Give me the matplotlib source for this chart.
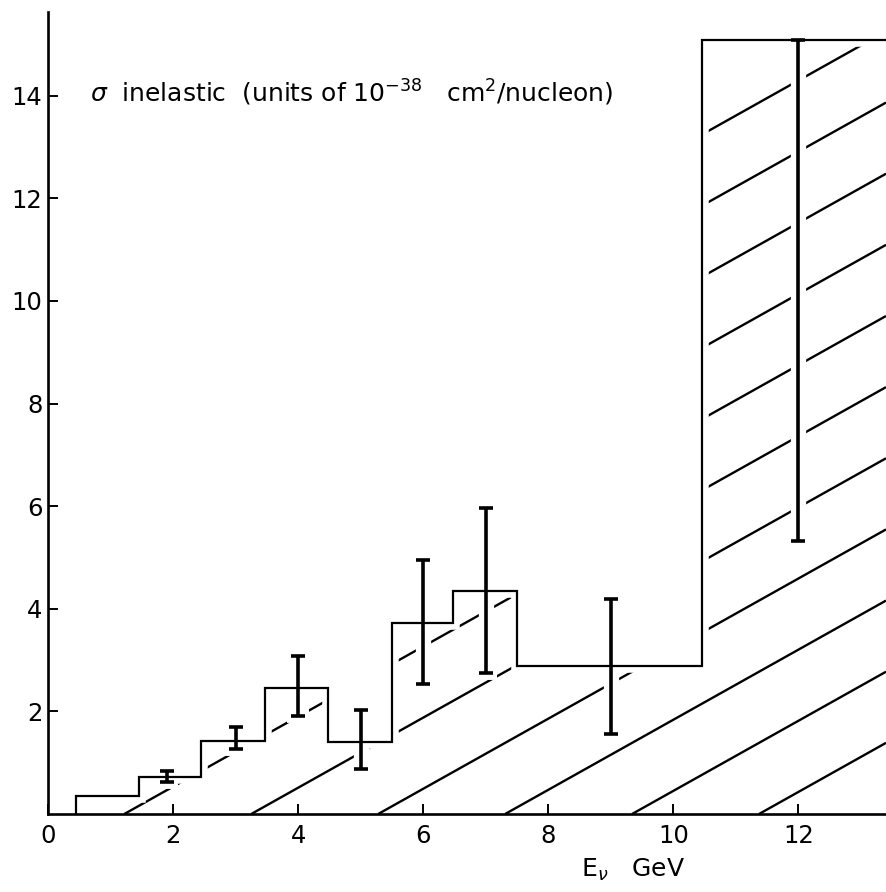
import matplotlib
matplotlib.use("Agg")
import matplotlib.pyplot as plt
import numpy as np

# --- data ---
bin_edges = [0.45, 1.45, 2.45, 3.47, 4.47, 5.5, 6.47, 7.5, 10.45, 14.0]
sigma_hist = [0.35, 0.73, 1.42, 2.46, 1.41, 3.73, 4.35, 2.88, 15.09]

point_E = [1.9, 3.0, 4.0, 5.0, 6.0, 7.0, 9.0, 12.0]
point_lo = [0.63, 1.26, 1.91, 0.88, 2.53, 2.75, 1.56, 5.32]
point_hi = [0.84, 1.70, 3.07, 2.03, 4.95, 5.97, 4.19, 15.09]

x_ticks = [0, 2, 4, 6, 8, 10, 12]
y_ticks = [2, 4, 6, 8, 10, 12, 14]
x_tick_labels = ["0", "2", "4", "6", "8", "10", "12"]
y_tick_labels = ["2", "4", "6", "8", "10", "12", "14"]

# hatch style (spacing / slope of decorative lines)
hatch_start = 1.22
hatch_spacing = 2.03
hatch_slope = 0.683

plt.rcParams['font.family'] = ['DejaVu Sans']
plt.rcParams['mathtext.fontset'] = 'dejavusans'

fig = plt.figure(figsize=(8.86, 8.92), dpi=100)
ax = fig.add_axes([48/886, 1 - 814/892, 1 - 48/886, (814 - 12)/892])
ax.set_xlim(0, 13.4)
ax.set_ylim(0, 15.63)

# clip region = area under histogram
clip = ax.stairs(sigma_hist, bin_edges, baseline=0, fill=True,
                 facecolor='none', edgecolor='none', zorder=0)

# hatch lines
for k in range(-5, 8):
    x0 = hatch_start + k * hatch_spacing
    ln = ax.axline((x0, 0), slope=hatch_slope, color='black', lw=1.7,
                   zorder=1, solid_capstyle='butt')
    ln.set_clip_path(clip)

# white halos (produce gaps in hatching)
ax.stairs(sigma_hist, bin_edges, baseline=None, color='white', lw=9, zorder=2)
mid = [(l + h) / 2 for l, h in zip(point_lo, point_hi)]
err = [[m - l for m, l in zip(mid, point_lo)], [h - m for m, h in zip(mid, point_hi)]]
ax.errorbar(point_E, mid, yerr=err, fmt='none', ecolor='white', elinewidth=11,
            capsize=8, capthick=10, zorder=2)

# black histogram outline
ax.stairs(sigma_hist, bin_edges, baseline=0, color='black', lw=1.6, zorder=3)
# error bars
ax.errorbar(point_E, mid, yerr=err, fmt='none', ecolor='black', elinewidth=2.6,
            capsize=5, capthick=2.6, zorder=4)

for s in ['top', 'right']:
    ax.spines[s].set_visible(False)
for s in ['left', 'bottom']:
    ax.spines[s].set_linewidth(1.9)
    ax.spines[s].set_zorder(5)

ax.set_xticks(x_ticks)
ax.set_xticklabels(x_tick_labels)
ax.set_yticks(y_ticks)
ax.set_yticklabels(y_tick_labels)
ax.tick_params(axis='both', direction='in', length=7, width=1.4, labelsize=17.5)
ax.tick_params(axis='x', pad=7)
ax.tick_params(axis='y', pad=4)

ax.text(0.67, 14.05, r'$\sigma$  inelastic  (units of 10$^{-38}$   cm$^{2}$/nucleon)',
        fontsize=18, ha='left', va='center')

fig.text(633/886, 1 - 870/892, r'E$_{\nu}$   GeV', fontsize=18, ha='center', va='center')

fig.savefig('out.png', dpi=100, facecolor='white')
